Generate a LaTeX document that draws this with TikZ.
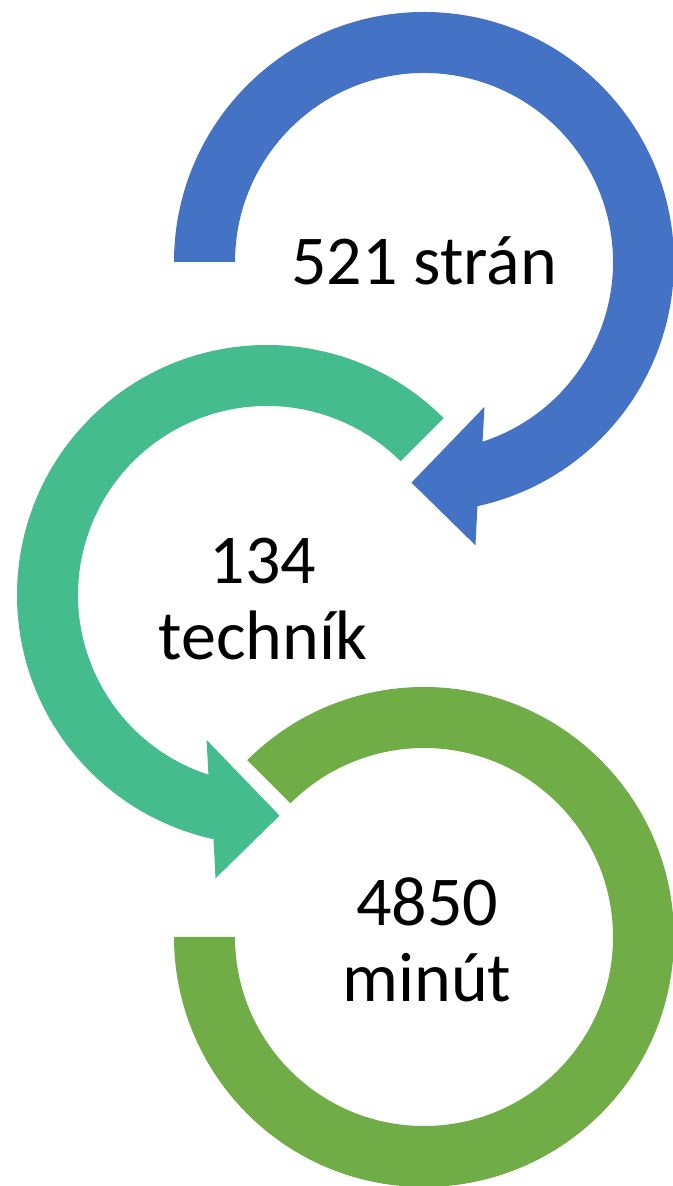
\documentclass[tikz,border=0pt]{standalone}
\usepackage{fontspec}
\setmainfont{Carlito}

\definecolor{pagesblue}{HTML}{4472C4}
\definecolor{techteal}{HTML}{45BC8E}
\definecolor{minutesgreen}{HTML}{70AD47}

\tikzset{
  label text/.style={font=\fontsize{70}{76}\selectfont, align=center, anchor=base}
}

\begin{document}
\begin{tikzpicture}[x=1pt,y=1pt]

      \useasboundingbox (0,0) rectangle (672,1186);

      % first ring, arrow head at the bottom
      \begin{scope}[shift={(424,924)}]
        \fill[pagesblue] (180:250) arc[start angle=180, end angle=-77.65, radius=250]
          -- (-79.7:288) -- (-93.25:221) -- (-67.35:157) -- (-71.95:189)
          arc[start angle=-71.95, end angle=180, radius=189] -- cycle;
      \end{scope}

      % second ring, mirrored
      \begin{scope}[shift={(267,591)}, xscale=-1]
        \fill[techteal] (135:250) arc[start angle=135, end angle=-77.65, radius=250]
          -- (-79.7:288) -- (-93.25:221) -- (-67.35:157) -- (-71.95:189)
          arc[start angle=-71.95, end angle=135, radius=189] -- cycle;
      \end{scope}

      % last ring, no arrow head
      \begin{scope}[shift={(424,249)}]
        \fill[minutesgreen] (135:250) arc[start angle=135, end angle=-180, radius=250]
          -- (180:189) arc[start angle=-180, end angle=135, radius=189] -- cycle;
      \end{scope}

      % base of a two line label is its last line
      \begin{scope}[every node/.style={label text}]
        \node (pages)      at (424,901) {521 strán};
        \node (techniques) at (263,526) {134\\techník};
        \node (minutes)    at (427,184) {4850\\minút};
      \end{scope}

    \end{tikzpicture}
\end{document}
